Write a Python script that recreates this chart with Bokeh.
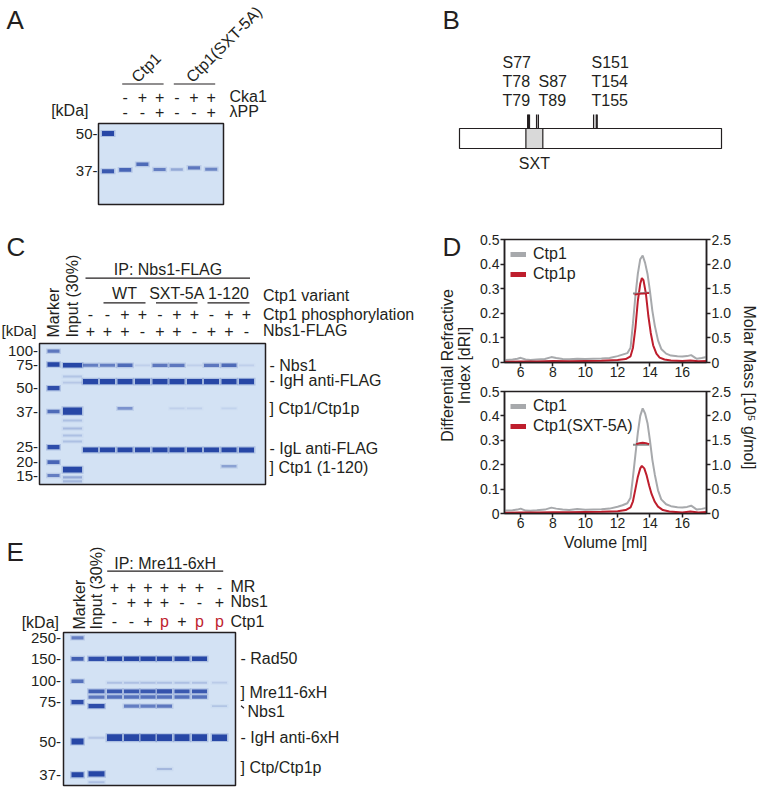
import numpy as np
from bokeh.plotting import figure
from bokeh.models import (Range1d, LinearAxis, FixedTicker, CustomJSTickFormatter,
                          Legend, LegendItem)
from bokeh.layouts import row, column
from bokeh.core.properties import value
from bokeh.embed import file_html
from bokeh.resources import INLINE

FONT = "Liberation Sans"
INK = "#231f20"
GREY = "#a7a9ac"
RED = "#be1e2d"
GEL_BG = "#d3e2f4"
BAND = "#2747a6"
FS = 16  # general label font size

# ====================== DATA ======================
# ---- Panel A: Ctp1 phosphorylation gel ----
A_groups = ["Ctp1", "Ctp1(SXT-5A)"]
A_row_names = ["Cka1", "λPP"]
A_cka1 = ["-", "+", "+", "-", "+", "+"]
A_lpp = ["-", "-", "+", "-", "-", "+"]
A_marker_kda = [50, 37]
A_band_lane = [0, 0, 1, 2, 3, 4, 5, 6]
A_band_kda = [50, 37, 37.4, 39.1, 37.5, 37.5, 38.0, 37.6]
A_band_amount = [1.3, 0.9, 0.8, 0.75, 0.6, 0.3, 0.65, 0.55]

# ---- Panel B: Ctp1 domain map ----
B_protein_length = 294
B_sxt_domain = [75, 94]
B_site_groups = [["S77", "T78", "T79"], ["S87", "T89"], ["S151", "T154", "T155"]]
B_site_residues = [77, 78, 79, 87, 89, 151, 154, 155]

# ---- Panel C: IP Nbs1-FLAG gel ----
C_groups = ["WT", "SXT-5A", "1-120"]
C_row_names = ["Ctp1 variant", "Ctp1 phosphorylation", "Nbs1-FLAG"]
C_phos = ["-", "-", "+", "+", "-", "+", "+", "-", "+", "+"]
C_nbs1 = ["+", "+", "+", "-", "+", "+", "-", "+", "+", "-"]
C_marker_kda = [100, 75, 50, 37, 25, 20, 15]
C_marker_amount = [0.65, 1.1, 1.0, 0.75, 1.0, 0.8, 0.6]
C_input_kda = [74, 61, 55, 37.2, 33.5, 30.7, 28.4, 26.6, 17.0, 14.4, 13.2]
C_input_amount = [1.1, 0.12, 0.1, 2.2, 0.15, 0.18, 0.15, 0.15, 1.6, 0.3, 0.2]
C_ip_kda = [74, 56, 38.5, 24, 18.3]
C_ip_amount = [
    [0.6, 0.6, 0.75, 0.05, 0.65, 0.65, 0.05, 0.65, 0.75, 0.05],   # Nbs1
    [1.4, 1.4, 1.4, 1.5, 1.4, 1.4, 1.4, 1.4, 1.4, 1.5],           # IgH
    [0.0, 0.0, 0.45, 0.0, 0.0, 0.04, 0.04, 0.0, 0.03, 0.0],       # Ctp1/Ctp1p
    [1.2, 1.2, 1.2, 1.2, 1.2, 1.2, 1.2, 1.2, 1.2, 1.3],           # IgL
    [0.0, 0.0, 0.0, 0.0, 0.0, 0.0, 0.0, 0.0, 0.35, 0.0],          # Ctp1 (1-120)
]
C_labels = ["- Nbs1", "- IgH anti-FLAG", "] Ctp1/Ctp1p", "- IgL anti-FLAG", "] Ctp1 (1-120)"]
C_label_kda = [74, 57, 38.5, 24.7, 18.0]

# ---- Panel D: SEC-MALS ----
VOL_TICKS = [6, 8, 10, 12, 14, 16]
DRI_TICKS = [0, 0.1, 0.2, 0.3, 0.4, 0.5]
MM_TICKS = [0, 0.5, 1.0, 1.5, 2.0, 2.5]
D1_names = ["Ctp1", "Ctp1p"]
D2_names = ["Ctp1", "Ctp1(SXT-5A)"]
D_grey_vol = [5.0, 5.5, 5.8, 6.0, 6.3, 6.6, 7.0, 7.5, 7.9, 8.2, 8.6, 9.0, 9.5, 10.0,
              10.5, 11.0, 11.5, 12.0, 12.3, 12.6, 12.8, 12.95, 13.1, 13.25, 13.4,
              13.55, 13.7, 13.85, 14.0, 14.15, 14.3, 14.5, 14.7, 15.0, 15.3, 15.7,
              16.0, 16.3, 16.55, 16.9, 17.2, 17.5]
D1_grey_dri = [0.010, 0.012, 0.015, 0.019, 0.012, 0.010, 0.012, 0.014, 0.022, 0.018,
               0.014, 0.013, 0.015, 0.014, 0.015, 0.016, 0.018, 0.026, 0.032, 0.038,
               0.060, 0.160, 0.270, 0.360, 0.420, 0.435, 0.405, 0.360, 0.290, 0.210,
               0.150, 0.090, 0.055, 0.036, 0.028, 0.025, 0.024, 0.026, 0.030, 0.015,
               0.018, 0.022]
D2_grey_dri = [0.012, 0.013, 0.016, 0.020, 0.012, 0.011, 0.013, 0.016, 0.024, 0.020,
               0.016, 0.014, 0.018, 0.015, 0.016, 0.017, 0.020, 0.028, 0.034, 0.042,
               0.065, 0.150, 0.240, 0.330, 0.400, 0.431, 0.410, 0.370, 0.300, 0.220,
               0.160, 0.095, 0.058, 0.038, 0.030, 0.026, 0.025, 0.027, 0.032, 0.016,
               0.019, 0.023]
D1_red_vol = [5.0, 6.0, 7.0, 8.0, 9.0, 10.0, 11.0, 12.0, 12.5, 12.8, 12.95, 13.1, 13.25,
              13.4, 13.5, 13.6, 13.75, 13.9, 14.05, 14.2, 14.4, 14.6, 14.9, 15.3, 16.0,
              16.5, 17.0, 17.5]
D1_red_dri = [0.003, 0.004, 0.004, 0.006, 0.005, 0.006, 0.007, 0.010, 0.014, 0.025,
              0.060, 0.140, 0.250, 0.320, 0.343, 0.335, 0.280, 0.190, 0.120, 0.070,
              0.036, 0.020, 0.012, 0.008, 0.006, 0.008, 0.005, 0.006]
D2_red_vol = [5.0, 6.0, 7.0, 8.0, 9.0, 10.0, 11.0, 12.0, 12.5, 12.8, 12.95, 13.1, 13.25,
              13.4, 13.5, 13.65, 13.8, 13.95, 14.1, 14.3, 14.5, 14.8, 15.2, 16.0, 16.5,
              17.0, 17.5]
D2_red_dri = [0.003, 0.004, 0.004, 0.005, 0.005, 0.006, 0.007, 0.009, 0.014, 0.025,
              0.050, 0.100, 0.150, 0.185, 0.195, 0.185, 0.155, 0.115, 0.080, 0.048,
              0.028, 0.014, 0.008, 0.004, 0.008, 0.004, 0.006]
D1_mm_grey_vol = [12.95, 13.15, 13.35, 13.55, 13.75, 13.95]
D1_mm_grey = [1.40, 1.40, 1.41, 1.41, 1.42, 1.42]
D1_mm_red_vol = [13.05, 13.25, 13.45, 13.65, 13.85, 13.95]
D1_mm_red = [1.38, 1.39, 1.40, 1.40, 1.41, 1.41]
D2_mm_grey_vol = [12.95, 13.15, 13.35, 13.55, 13.75, 13.95]
D2_mm_grey = [1.41, 1.41, 1.41, 1.41, 1.41, 1.41]
D2_mm_red_vol = [13.15, 13.35, 13.55, 13.75, 13.95]
D2_mm_red = [1.42, 1.44, 1.45, 1.44, 1.42]

# ---- Panel E: IP Mre11-6xH gel ----
E_row_names = ["MR", "Nbs1", "Ctp1"]
E_mr = ["+", "+", "+", "+", "+", "+", "-"]
E_nbs1 = ["-", "+", "+", "+", "-", "-", "+"]
E_ctp1 = ["-", "-", "+", "p", "+", "p", "p"]
E_marker_kda = [250, 150, 100, 75, 50, 37]
E_marker_amount = [0.6, 0.85, 0.7, 1.0, 1.6, 1.3]
E_input_kda = [150, 87, 80.5, 72, 52, 37.3, 34.6]
E_input_amount = [1.0, 0.85, 0.65, 1.0, 0.1, 1.4, 0.15]
E_ip_kda = [150, 98, 87, 80.5, 72, 52, 39]
E_ip_amount = [
    [1.1, 1.1, 1.1, 1.1, 1.1, 1.1, 0.0],      # Rad50
    [0.15, 0.15, 0.15, 0.15, 0.15, 0.15, 0.08],  # faint
    [0.9, 0.9, 0.9, 0.95, 0.9, 0.9, 0.0],     # Mre11 upper
    [0.7, 0.7, 0.7, 0.7, 0.7, 0.7, 0.0],      # Mre11 lower
    [0.0, 0.6, 0.6, 0.65, 0.0, 0.0, 0.12],    # Nbs1
    [2.0, 2.0, 2.0, 2.0, 2.0, 2.0, 1.9],      # IgH
    [0.0, 0.0, 0.0, 0.2, 0.0, 0.0, 0.0],      # Ctp1p
]
E_labels = ["- Rad50", "] Mre11-6xH", "Nbs1", "- IgH anti-6xH", "] Ctp/Ctp1p"]
E_label_kda = [150, 86, 68, 52, 39.6]

# ====================== LAYOUT HELPERS ======================

def kda_to_y(kda, cal_kda, cal_y):
    lk = -np.log(np.asarray(cal_kda, float))
    cy = np.asarray(cal_y, float)
    x = -np.log(np.asarray(kda, float))
    y = np.interp(x, lk, cy)
    s0 = (cy[1] - cy[0]) / (lk[1] - lk[0])
    s1 = (cy[-1] - cy[-2]) / (lk[-1] - lk[-2])
    y = np.where(x < lk[0], cy[0] + (x - lk[0]) * s0, y)
    y = np.where(x > lk[-1], cy[-1] + (x - lk[-1]) * s1, y)
    return y


def canvas(x0, x1, y0, y1):
    p = figure(width=x1 - x0, height=y1 - y0, x_range=Range1d(x0, x1),
               y_range=Range1d(y1, y0), output_backend="svg", toolbar_location=None,
               min_border=0, x_axis_location=None, y_axis_location=None)
    p.grid.visible = False
    p.outline_line_color = None
    return p


def txt(p, x, y, t, size=FS, align="left", baseline="middle", angle=0.0, color=INK):
    if not isinstance(t, (list, tuple)):
        x, y, t = [x], [y], [t]
    p.text(x=list(x), y=list(y), text=list(t), text_font=value(FONT),
           text_font_size=value(f"{size}px"), text_align=align,
           text_baseline=baseline, angle=angle, text_color=color)


def seg(p, x0, y0, x1, y1, w=1.2, color=INK):
    p.segment(x0=[x0], y0=[y0], x1=[x1], y1=[y1], line_color=color, line_width=w)


def gel(p, box, lane_x, lane_w, lanes, kdas, amounts, cal_kda, cal_y):
    l, r, t, b = box
    p.quad(left=[l], right=[r], top=[t], bottom=[b], fill_color=GEL_BG, line_color=None)
    lanes = np.asarray(lanes)
    amounts = np.asarray(amounts, float)
    keep = amounts > 0
    lanes, amounts = lanes[keep], amounts[keep]
    kd = np.asarray(kdas, float)[keep]
    xs = np.asarray(lane_x)[lanes]
    ws = np.asarray(lane_w)[lanes]
    ys = kda_to_y(kd, cal_kda, cal_y)
    hs = 1.6 + 2.6 * amounts
    al = np.clip(0.9 * amounts + 0.05, 0, 1)
    p.rect(x=xs, y=ys, width=ws + 3, height=hs + 2.2, fill_color=BAND,
           fill_alpha=al * 0.22, line_color=None)
    p.rect(x=xs, y=ys, width=ws, height=hs, fill_color=BAND, fill_alpha=al, line_color=None)
    p.quad(left=[l], right=[r], top=[t], bottom=[b], fill_color=None,
           line_color=INK, line_width=1.5)


def flatten_ip(ip_kda, ip_amount, first_lane):
    lanes, kdas, amts = [], [], []
    for kd, row_ in zip(ip_kda, ip_amount):
        for i, a in enumerate(row_):
            lanes.append(first_lane + i)
            kdas.append(kd)
            amts.append(a)
    return lanes, kdas, amts

# ====================== PANELS A + C ======================
pAC = canvas(0, 420, 0, 520)

# --- A ---
txt(pAC, 6, 19, "A", size=26)
A_box = (98, 223, 123, 204)
A_cal_y = [133, 170.7]
A_lane_x = [107.5 + 17.2 * i for i in range(7)]
A_lane_w = [12] * 7
gel(pAC, A_box, A_lane_x, A_lane_w, A_band_lane, A_band_kda, A_band_amount,
    A_marker_kda, A_cal_y)
txt(pAC, [97] * 2, list(kda_to_y(A_marker_kda, A_marker_kda, A_cal_y)),
    [f"{k}-" for k in A_marker_kda], size=15, align="right")
txt(pAC, 88, 110, "[kDa]", align="right")
txt(pAC, A_lane_x[1:], [96] * 6, A_cka1, align="center")
txt(pAC, A_lane_x[1:], [111] * 6, A_lpp, align="center")
txt(pAC, [229, 229], [96, 111], A_row_names)
for gi, name in enumerate(A_groups):
    x0 = A_lane_x[1 + 3 * gi] - 3
    x1 = A_lane_x[3 + 3 * gi] + 4
    seg(pAC, x0, 83.5, x1, 83.5)
    txt(pAC, x0 + 12 + 3 * gi, 79, name, align="left", baseline="alphabetic",
        angle=np.pi / 4)

# --- C ---
txt(pAC, 6, 246, "C", size=26)
C_box = (39, 265, 343, 484)
C_cal_y = [350.7, 364, 387.7, 411, 446.7, 461.7, 475]
C_lane_x = [53, 72, 90, 107, 124.5, 142, 159.5, 176.5, 194, 211, 228.5, 246]
C_lane_w = [12, 19] + [15] * 10
lanes = [0] * len(C_marker_kda) + [1] * len(C_input_kda)
kdas = list(C_marker_kda) + list(C_input_kda)
amts = list(C_marker_amount) + list(C_input_amount)
l2, k2, a2 = flatten_ip(C_ip_kda, C_ip_amount, 2)
gel(pAC, C_box, C_lane_x, C_lane_w, lanes + l2, kdas + k2, amts + a2,
    C_marker_kda, C_cal_y)
txt(pAC, [37.5] * len(C_marker_kda), list(kda_to_y(C_marker_kda, C_marker_kda, C_cal_y)),
    [f"{k}-" for k in C_marker_kda], size=15, align="right")
txt(pAC, 36, 330, "[kDa]", size=15, align="right")
txt(pAC, [C_lane_x[0] - 0.5, C_lane_x[1]], [337, 337], ["Marker", "Input (30%)"],
    align="left", angle=np.pi / 2)
txt(pAC, 167.5, 268.5, "IP: Nbs1-FLAG", align="center")
seg(pAC, 85, 277.7, 249.5, 277.7)
for gi, name in enumerate(C_groups):
    x0 = C_lane_x[3 + 3 * gi] - 4
    x1 = C_lane_x[5 + 3 * gi] + 3
    seg(pAC, x0, 302.3, x1, 302.3)
    txt(pAC, (x0 + x1) / 2, 292.5, name, align="center")
txt(pAC, C_lane_x[2:], [313.5] * 10, C_phos, align="center")
txt(pAC, C_lane_x[2:], [330] * 10, C_nbs1, align="center")
txt(pAC, [262.5] * 3, [295, 313.5, 330], C_row_names)
txt(pAC, [269] * len(C_labels), list(kda_to_y(C_label_kda, C_marker_kda, C_cal_y)),
    C_labels)

# ====================== PANEL E ======================
pE = canvas(0, 420, 520, 787)
txt(pE, 6, 551, "E", size=26)
E_box = (63, 235, 632, 785)
E_cal_y = [637.3, 658.3, 680.7, 701.7, 741, 774.3]
E_lane_x = [77, 96, 114, 131, 147.5, 164, 181.5, 199, 219]
E_lane_w = [12, 16] + [15] * 7
lanes = [0] * len(E_marker_kda) + [1] * len(E_input_kda)
kdas = list(E_marker_kda) + list(E_input_kda)
amts = list(E_marker_amount) + list(E_input_amount)
l2, k2, a2 = flatten_ip(E_ip_kda, E_ip_amount, 2)
gel(pE, E_box, E_lane_x, E_lane_w, lanes + l2, kdas + k2, amts + a2,
    E_marker_kda, E_cal_y)
txt(pE, [60.5] * len(E_marker_kda), list(kda_to_y(E_marker_kda, E_marker_kda, E_cal_y)),
    [f"{k}-" for k in E_marker_kda], size=15, align="right")
txt(pE, 58.5, 622, "[kDa]", align="right")
txt(pE, [E_lane_x[0] + 2, E_lane_x[1]], [629, 629], ["Marker", "Input (30%)"],
    align="left", angle=np.pi / 2)
txt(pE, 164.7, 562.7, "IP: Mre11-6xH", align="center")
seg(pE, 106.7, 570.7, 222.7, 570.7)
txt(pE, E_lane_x[2:], [586] * 7, E_mr, align="center")
txt(pE, E_lane_x[2:], [601] * 7, E_nbs1, align="center")
ctp_col = [RED if s == "p" else INK for s in E_ctp1]
pE.text(x=E_lane_x[2:], y=[620.5] * 7, text=E_ctp1, text_font=value(FONT),
        text_font_size=value(f"{FS}px"), text_align="center", text_baseline="middle",
        text_color=ctp_col)
txt(pE, [230] * 3, [586, 601, 621], E_row_names)
ely = list(kda_to_y(E_label_kda, E_marker_kda, E_cal_y))
txt(pE, [240, 240, 247, 240, 240], ely, E_labels)
seg(pE, 240.5, ely[2] - 6, 243.5, ely[2] - 3.5)

# ====================== PANEL B ======================
pB = canvas(420, 762, 0, 225)
txt(pB, 442, 19, "B", size=26)
bx0, bx1 = 459, 721
res_x = lambda r: bx0 + (np.asarray(r, float) - 0.5) / B_protein_length * (bx1 - bx0)
pB.quad(left=[bx0], right=[bx1], top=[128], bottom=[148], fill_color="white",
        line_color=INK, line_width=1.2)
sx = res_x(B_sxt_domain)
pB.quad(left=[sx[0]], right=[sx[1]], top=[128], bottom=[148], fill_color="#d9d9d9",
        line_color=INK, line_width=1.2)
sxs = res_x(B_site_residues)
pB.segment(x0=sxs, y0=[114] * len(sxs), x1=sxs, y1=[128] * len(sxs),
           line_color=INK, line_width=1.3)
txt(pB, (sx[0] + sx[1]) / 2, 163, "SXT", align="center")
B_label_left = [502, 538, 591]
for gi, grp in enumerate(B_site_groups):
    n = len(grp)
    ys = [62, 81, 100][3 - n:]
    txt(pB, [B_label_left[gi]] * n, ys, grp)

# ====================== PANEL D ======================
pDl = canvas(420, 476, 225, 560)
txt(pDl, 442, 246, "D", size=26)
txt(pDl, [447, 464], [365, 365], ["Differential Refractive", "Index [dRI]"],
    align="center", angle=np.pi / 2)
pDr = canvas(736, 762, 225, 560)
txt(pDr, 749, 387, "Molar Mass [10⁵ g/mol]", align="center", angle=-np.pi / 2)

fmt = CustomJSTickFormatter(code="return tick == 0 ? '0' : tick.toFixed(1);")


def dplot(h, top, bottom, names, gvol, gdri, rvol, rdri, mgv, mg, mrv, mr, xlabel):
    p = figure(width=260, height=h, x_range=Range1d(5, 17.5), y_range=Range1d(0, 0.5),
               output_backend="svg", toolbar_location=None,
               min_border_left=28, min_border_right=30, min_border_top=top,
               min_border_bottom=bottom)
    p.extra_y_ranges = {"mm": Range1d(0, 2.5)}
    rax = LinearAxis(y_range_name="mm")
    p.add_layout(rax, "right")
    p.grid.visible = False
    p.outline_line_color = INK
    p.outline_line_width = 1.5
    p.xaxis.ticker = FixedTicker(ticks=VOL_TICKS)
    p.left[0].ticker = FixedTicker(ticks=DRI_TICKS)
    p.left[0].formatter = fmt
    rax.ticker = FixedTicker(ticks=MM_TICKS)
    rax.formatter = fmt
    for ax in [p.left[0], rax, p.below[0]]:
        ax.axis_line_color = INK
        ax.axis_line_width = 1.5
        ax.major_tick_line_color = INK
        ax.major_tick_line_width = 1.5
        ax.major_tick_in = 0
        ax.major_tick_out = 4
        ax.minor_tick_line_color = None
        ax.major_label_text_font = FONT
        ax.major_label_text_font_size = "14px"
        ax.major_label_text_color = INK
        ax.major_label_standoff = 1
    p.below[0].major_label_standoff = 0
    if xlabel:
        p.xaxis.axis_label = xlabel
        p.xaxis.axis_label_text_font = FONT
        p.xaxis.axis_label_text_font_size = f"{FS}px"
        p.xaxis.axis_label_text_font_style = "normal"
        p.xaxis.axis_label_text_color = INK
        p.xaxis.axis_label_standoff = 3
    p.line(gvol, gdri, color=GREY, line_width=2)
    p.line(rvol, rdri, color=RED, line_width=2)
    p.line(mgv, mg, color="#8a8a8a", line_width=2, y_range_name="mm")
    p.line(mrv, mr, color=RED, line_width=1.8, y_range_name="mm")
    # legend swatches (single-point lines: invisible in the plot, thick in the legend)
    s1 = p.line(gvol[:1], gdri[:1], color=GREY, line_width=5)
    s2 = p.line(rvol[:1], rdri[:1], color=RED, line_width=5)
    leg = Legend(items=[LegendItem(label=names[0], renderers=[s1]),
                        LegendItem(label=names[1], renderers=[s2])],
                 location="top_left", margin=6, padding=2, spacing=2,
                 glyph_width=16, glyph_height=16, label_height=16, label_standoff=7,
                 border_line_color=None, background_fill_alpha=0,
                 label_text_font=FONT, label_text_font_size=f"{FS}px",
                 label_text_color=INK)
    p.add_layout(leg)
    return p


pD1 = dplot(157, 14, 20, D1_names, D_grey_vol, D1_grey_dri, D1_red_vol, D1_red_dri,
            D1_mm_grey_vol, D1_mm_grey, D1_mm_red_vol, D1_mm_red, None)
pD2 = dplot(178, 9, 47, D2_names, D_grey_vol, D2_grey_dri, D2_red_vol, D2_red_dri,
            D2_mm_grey_vol, D2_mm_grey, D2_mm_red_vol, D2_mm_red, "Volume [ml]")

right = column(pB, row(pDl, column(pD1, pD2), pDr))
layout = row(column(pAC, pE), right)

open("out.html", "w").write(file_html(layout, INLINE))
